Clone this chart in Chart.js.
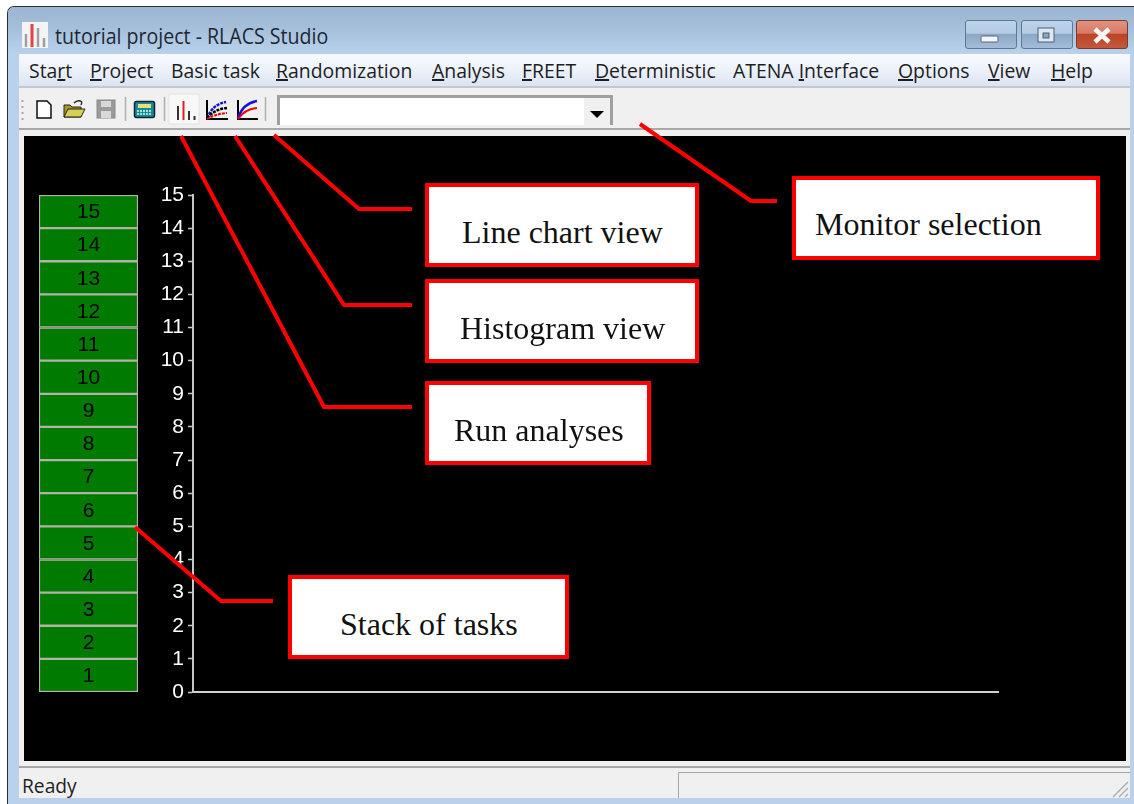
<!DOCTYPE html>
<html>
<head>
<meta charset="utf-8">
<title>tutorial project - RLACS Studio</title>
<script src="https://cdn.jsdelivr.net/npm/chart.js@4/dist/chart.umd.min.js"></script>
<style>
html,body{margin:0;padding:0;background:#fff;overflow:hidden}
#page{position:relative;width:1134px;height:804px;overflow:hidden;background:#fff}
#page div,#page span.m{position:absolute}
#frame{left:7px;top:6px;width:1127px;height:798px;background:#b9d1ea;border-left:1px solid #2a2f36;border-top:1px solid #2a2f36;border-top-left-radius:7px;box-sizing:border-box}
#titlebar{left:8px;top:7px;width:1126px;height:47px;border-top-left-radius:6px;background:linear-gradient(#9bb5d2,#a4bed9 40%,#b9d2ec)}
#title{left:55px;top:21px;font:21.5px "Open Sans",sans-serif;color:#1d2733;white-space:nowrap;transform:scaleX(.91);transform-origin:left center}
.wbtn{top:20px;height:29px;box-sizing:border-box;border:1px solid #5f7890;border-radius:3px;background:linear-gradient(#bdd3ea,#b4cbe4 45%,#8ca8c6 50%,#a3bcd8)}
#menubar{left:19px;top:54px;width:1111px;height:32px;background:linear-gradient(#f8fafe,#eef3fb 45%,#dbe4f3)}
.m{top:57px;font:20px "Open Sans",sans-serif;color:#1e1e1e;white-space:nowrap;transform:scaleX(.97);transform-origin:left center}
#toolbar{left:19px;top:86px;width:1111px;height:681px;background:#f0f0f0;border-top:2px solid #c4c8cc;box-sizing:border-box}
#toolline{left:19px;top:128px;width:1111px;height:2px;background:#a8a8a8}
#combo{left:277px;top:95px;width:336px;height:30px;box-sizing:border-box;background:#fff;border:3px solid #a0a0a0;border-bottom:none}
#combobtn{left:584px;top:98px;width:26px;height:27px;background:#f0f0f0}
#panel{left:24px;top:136px;width:1102px;height:625px;background:#000}
#panel canvas{position:absolute;left:0;top:0}
#statusline{left:19px;top:766px;width:1111px;height:2px;background:#a6a6a6}
#status{left:19px;top:768px;width:1111px;height:30px;background:#f0f0f0}
#ready{left:22px;top:772px;font:20px "Open Sans",sans-serif;color:#1e1e1e;transform:scaleX(.96);transform-origin:left center}
#pane{left:678px;top:772px;width:452px;height:26px;box-sizing:border-box;border-top:1px solid #a6a6a6;border-left:1px solid #a6a6a6}
#overlay,#icons{position:absolute;left:0;top:0}
.box{box-sizing:border-box;border:4px solid #f00;background:#fff;color:#111;font:32px "Liberation Serif",serif;white-space:nowrap}
.box span{position:absolute}
</style>
</head>
<body>
<div id="page">
  <div id="frame"></div>
  <div id="titlebar"></div>
  <div id="title">tutorial project - RLACS Studio</div>
  <div class="wbtn" style="left:965px;width:52px"></div>
  <div class="wbtn" style="left:1021px;width:52px"></div>
  <div class="wbtn" style="left:1076px;width:52px;border-color:#7a3a30;background:linear-gradient(#e2917f,#d67a66 45%,#bb4426 50%,#c4583c)"></div>
  <div id="menubar"></div>
  <span class="m" style="left:29px">Sta<u>r</u>t</span>
  <span class="m" style="left:90px"><u>P</u>roject</span>
  <span class="m" style="left:171px">Basic task</span>
  <span class="m" style="left:276px"><u>R</u>andomization</span>
  <span class="m" style="left:432px"><u>A</u>nalysis</span>
  <span class="m" style="left:522px"><u>F</u>REET</span>
  <span class="m" style="left:595px"><u>D</u>eterministic</span>
  <span class="m" style="left:733px">ATENA <u>I</u>nterface</span>
  <span class="m" style="left:898px"><u>O</u>ptions</span>
  <span class="m" style="left:988px"><u>V</u>iew</span>
  <span class="m" style="left:1051px"><u>H</u>elp</span>
  <div id="toolbar"></div>
  <div id="toolline"></div>
  <div id="combo"></div>
  <div id="combobtn"></div>
  <div id="panel">
    <canvas id="stackChart" width="1102" height="625"></canvas>
    <canvas id="monitorChart" width="1102" height="625"></canvas>
  </div>
  <div id="statusline"></div>
  <div id="status"></div>
  <div id="ready">Ready</div>
  <div id="pane"></div>

  <svg id="icons" width="1134" height="804">
    <!-- app icon -->
    <rect x="22" y="22" width="26" height="26" fill="#f4f4f4"/>
    <path d="M26 47V34M38 47V28M44 47V38" stroke="#a0a0a0" stroke-width="2.5" fill="none"/>
    <path d="M32 47V24" stroke="#e8403c" stroke-width="3"/>
    <!-- window buttons -->
    <rect x="981" y="36" width="17" height="6" rx="1" fill="#f4f6f9" stroke="#56687c"/>
    <rect x="1038" y="28" width="16" height="14" fill="#dfe8f2" stroke="#4d5f72"/>
    <rect x="1043" y="33" width="6" height="5" fill="#8ba5c0" stroke="#4d5f72"/>
    <path d="M1095 29L1109 42M1109 29L1095 42" stroke="#f6f6f6" stroke-width="4.5"/>
    <!-- grip -->
    <path d="M22.5 100v2M22.5 106v2M22.5 112v2M22.5 118v2" stroke="#a8a8a8" stroke-width="2"/>
    <!-- new -->
    <path d="M37 101h10l4 4v13H37z" fill="#fff" stroke="#111" stroke-width="1.500"/>
    <!-- open -->
    <path d="M64 117v-12h6l2 2h9v10z" fill="#a89a20" stroke="#222"/>
    <path d="M64 117l4-8h17l-4 8z" fill="#d8d050" stroke="#222"/>
    <path d="M74 103q4-4 8-1M82 102l-1 3" stroke="#222" stroke-width="1.300" fill="none"/>
    <!-- save -->
    <rect x="97" y="100" width="18" height="18" fill="#9a9a9a" stroke="#8a8a8a"/>
    <rect x="101" y="101" width="10" height="6" fill="#d8d8d8"/>
    <rect x="101" y="111" width="10" height="7" fill="#d8d8d8"/>
    <path d="M125.5 97v24M164.5 97v24M265.5 97v24" stroke="#b0b0b0" stroke-width="1.5"/>
    <!-- calc -->
    <rect x="134.500" y="101.500" width="20" height="16" rx="2" fill="#1a8a9a" stroke="#123" stroke-width="1.500"/>
    <rect x="138" y="104" width="13" height="4" fill="#e8e070"/>
    <path d="M137 111h15M137 114h15" stroke="#cfe" stroke-width="1.500" stroke-dasharray="2 1"/>
    <!-- histogram view -->
    <rect x="169" y="94" width="30" height="30" fill="#f8f8f8" stroke="#e2e2e2"/>
    <path d="M178 120v-14M189 120v-9M194.500 120v-4" stroke="#333" stroke-width="2"/>
    <path d="M183.500 120v-19" stroke="#e02020" stroke-width="2"/>
    <!-- line views -->
    <path d="M207 100v19h21" stroke="#000" stroke-width="2" fill="none"/>
    <path d="M207 118q6-14 19-16" stroke="#1010d0" stroke-width="2.500" fill="none" stroke-dasharray="3 1"/>
    <path d="M207 118q8-9 20-10" stroke="#000" stroke-width="2.500" fill="none" stroke-dasharray="3 1"/>
    <path d="M207 119q8-5 20-6" stroke="#e00" stroke-width="2" fill="none" stroke-dasharray="3 1"/>
    <path d="M238 100v19h20" stroke="#000" stroke-width="2" fill="none"/>
    <path d="M238 118q5-15 19-17" stroke="#1010e0" stroke-width="2.500" fill="none"/>
    <path d="M238 119q7-10 19-11" stroke="#e00" stroke-width="2" fill="none"/>
    <!-- combo arrow -->
    <path d="M590 111h14l-7 7z" fill="#000"/>
    <!-- resize grip -->
    <path d="M1113 797l15-15M1119 797l9-9M1125 797l3-3" stroke="#b0b0b0" stroke-width="1.500"/>
  </svg>

  <svg id="overlay" width="1134" height="804" fill="none" stroke="#f00" stroke-width="4">
    <polyline points="181,136 324,407 412,407"/>
    <polyline points="235,136 344,305 412,305"/>
    <polyline points="274,135 359,209 412,209"/>
    <polyline points="640,124 751,201 777,201"/>
    <polyline points="135,527 221,601 273,601"/>
  </svg>

  <div class="box" style="left:425px;top:183px;width:274px;height:84px"><span style="left:33px;top:27px">Line chart view</span></div>
  <div class="box" style="left:425px;top:279px;width:274px;height:84px"><span style="left:31px;top:27px">Histogram view</span></div>
  <div class="box" style="left:425px;top:381px;width:226px;height:84px"><span style="left:25px;top:27px">Run analyses</span></div>
  <div class="box" style="left:288px;top:575px;width:281px;height:84px"><span style="left:48px;top:27px">Stack of tasks</span></div>
  <div class="box" style="left:792px;top:176px;width:308px;height:84px"><span style="left:19px;top:26px">Monitor selection</span></div>
</div>

<script>
const taskLabels = ['1','2','3','4','5','6','7','8','9','10','11','12','13','14','15'];
const taskSizes = [1,1,1,1,1,1,1,1,1,1,1,1,1,1,1];
const stackCategory = ['tasks'];
const yMin = 0;
const yMax = 15;
const monitorCategories = [];
const monitorValues = [];

const labelFont = '21px "Liberation Sans", Arial, sans-serif';

// writes the task number in the middle of each stack segment
const taskNumbers = {
  id:'taskNumbers',
  afterDatasetsDraw(chart){
    const ctx = chart.ctx;
    ctx.save();
    ctx.font = labelFont;
    ctx.fillStyle = '#000';
    ctx.textAlign = 'center';
    ctx.textBaseline = 'middle';
    chart.data.datasets.forEach((ds,i) => {
      const bar = chart.getDatasetMeta(i).data[0];
      ctx.fillText(ds.label, bar.x, (bar.y + bar.base)/2 + 1);
    });
    ctx.restore();
  }
};

new Chart(document.getElementById('stackChart').getContext('2d'), {
  type:'bar',
  data:{
    labels:stackCategory,
    datasets:taskLabels.map((t,i) => ({
      label:t,
      data:[taskSizes[i]],
      backgroundColor:'#007a00',
      borderColor:'#b2b2a8',
      borderWidth:1.5,
      borderSkipped:false,
      barPercentage:1,
      categoryPercentage:1
    }))
  },
  options:{
    responsive:false,
    animation:false,
    layout:{padding:{left:15,right:988,top:59,bottom:69}},
    plugins:{legend:{display:false},tooltip:{enabled:false},title:{display:false}},
    scales:{
      x:{display:false,stacked:true},
      y:{display:false,stacked:true,min:yMin,max:yMax}
    }
  },
  plugins:[taskNumbers]
});

new Chart(document.getElementById('monitorChart').getContext('2d'), {
  type:'bar',
  data:{labels:monitorCategories,datasets:[{label:'Monitor',data:monitorValues}]},
  options:{
    responsive:false,
    animation:false,
    layout:{padding:{left:0,right:128,top:59,bottom:69}},
    plugins:{legend:{display:false},tooltip:{enabled:false},title:{display:false}},
    scales:{
      x:{
        afterFit(scale){ scale.height = 0; },
        grid:{display:false},
        border:{color:'#d0d0d0',width:2},
        ticks:{display:false}
      },
      y:{
        min:yMin,
        max:yMax,
        afterFit(scale){ scale.width = 169; },
        grid:{drawOnChartArea:false,tickLength:5,tickColor:'#c8c8c8',tickWidth:1.5},
        border:{color:'#c8c8c8',width:2},
        ticks:{stepSize:1,color:'#fff',padding:4,font:{family:'"Liberation Sans", Arial, sans-serif',size:21}}
      }
    }
  }
});
</script>
</body>
</html>
